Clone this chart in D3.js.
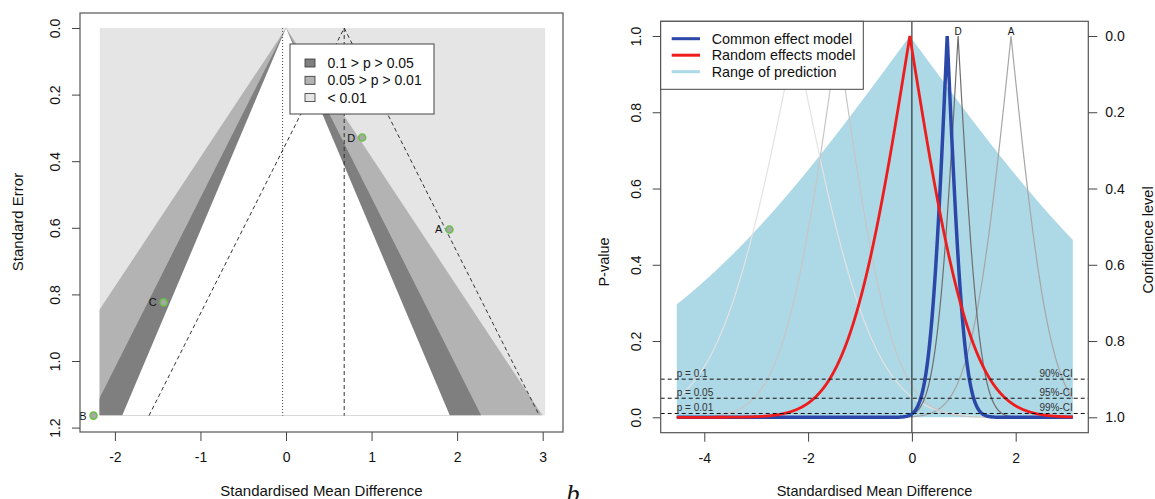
<!DOCTYPE html>
<html>
<head>
<meta charset="utf-8">
<script src="https://cdn.jsdelivr.net/npm/d3@7"></script>
<style>
  body { margin: 0; background: #fff; }
  svg text { font-family: "Liberation Sans", Arial, Helvetica, sans-serif; fill: #111; }
  .axis path.domain { display: none; }
  .axis line { stroke: #444; }
  .axis text { font-size: 14px; }
</style>
</head>
<body>
<div id="chart"></div>
<script>
// studies (estimate, standard error)
var studyLabels = ["A", "B", "C", "D"];
var studyTE = [1.91, -2.25, -1.43, 0.89];
var studySE = [0.605, 1.164, 0.824, 0.329];

// pooled models: common effect, random effects, prediction
var modelLabels = ["Common effect model", "Random effects model", "Range of prediction"];
var modelTE = [0.68, -0.04, -0.04];
var modelSE = [0.26, 0.94, 4.3];

// contour levels of the funnel
var contourLabels = ["0.1 > p > 0.05", "0.05 > p > 0.01", "< 0.01"];
var contourZ = [1.645, 1.96, 2.576];

// significance lines of the p-value plot
var pLevels = [0.1, 0.05, 0.01];
var pLabels = ["p = 0.1", "p = 0.05", "p = 0.01"];
var ciLabels = ["90%-CI", "95%-CI", "99%-CI"];

// ticks and ranges
var xTicksL = [-2, -1, 0, 1, 2, 3];
var yTicksL = [0, 0.2, 0.4, 0.6, 0.8, 1.0, 1.2];
var xTicksR = [-4, -2, 0, 2];
var yTicksR = [0, 0.2, 0.4, 0.6, 0.8, 1.0];
var funnelXRange = [-2.18, 3.03];
var curveXRange = [-4.53, 3.1];

// colours
var contourFill = ["#7f7f7f", "#b3b3b3", "#e5e5e5"];
var studyGray = ["#a6a6a6", "#e3e3e3", "#c6c6c6", "#6e6e6e"];
var modelColor = ["#2b48a8", "#ee1c1c", "#add8e6"];

var svg = d3.select("#chart").append("svg")
    .attr("width", 1155)
    .attr("height", 499);

// ---------- left panel: contour-enhanced funnel ----------
var xL = d3.scaleLinear().domain([-2, 3]).range([114.9, 542.7]);
var yL = d3.scaleLinear().domain([0, 1.2]).range([28, 427.6]);
var seMax = d3.max(studySE);

svg.append("clipPath").attr("id", "clipFunnel")
    .append("rect")
    .attr("x", xL(funnelXRange[0]))
    .attr("y", yL(0))
    .attr("width", xL(funnelXRange[1]) - xL(funnelXRange[0]))
    .attr("height", yL(seMax) - yL(0));

var gF = svg.append("g").attr("clip-path", "url(#clipFunnel)");
gF.append("rect")
    .attr("x", xL(funnelXRange[0]))
    .attr("y", yL(0))
    .attr("width", xL(funnelXRange[1]) - xL(funnelXRange[0]))
    .attr("height", yL(seMax) - yL(0))
    .attr("fill", contourFill[2]);

// triangles from widest to narrowest
var tri = function(z) {
    return [[0, 0], [-z * seMax, seMax], [z * seMax, seMax]];
};
var lineL = d3.line().x(function(d) { return xL(d[0]); }).y(function(d) { return yL(d[1]); });
var triZ = [contourZ[2], contourZ[1], contourZ[0]];
var triFill = [contourFill[1], contourFill[0], "#ffffff"];
triZ.forEach(function(z, i) {
    gF.append("path").attr("d", lineL(tri(z)) + "Z").attr("fill", triFill[i]);
});

// pseudo confidence funnel around common effect
var ce = modelTE[0];
svg.append("path")
    .attr("d", lineL([[ce - 1.96 * seMax, seMax], [ce, 0], [ce + 1.96 * seMax, seMax]]))
    .attr("fill", "none").attr("stroke", "#333").attr("stroke-dasharray", "4,3");
svg.append("line")
    .attr("x1", xL(ce)).attr("x2", xL(ce)).attr("y1", yL(0)).attr("y2", yL(seMax))
    .attr("stroke", "#333").attr("stroke-dasharray", "4,3");
svg.append("line")
    .attr("x1", xL(modelTE[1])).attr("x2", xL(modelTE[1])).attr("y1", yL(0)).attr("y2", yL(seMax))
    .attr("stroke", "#444").attr("stroke-dasharray", "1,2");

// studies
svg.selectAll(".study").data(studyLabels).enter().append("circle")
    .attr("class", "study")
    .attr("cx", function(d, i) { return xL(studyTE[i]); })
    .attr("cy", function(d, i) { return yL(studySE[i]); })
    .attr("r", 3.5)
    .attr("fill", "#a8a8a8")
    .attr("stroke", "#6cc04a")
    .attr("stroke-width", 1.6);
svg.selectAll(".studyLab").data(studyLabels).enter().append("text")
    .attr("x", function(d, i) { return xL(studyTE[i]) - 7; })
    .attr("y", function(d, i) { return yL(studySE[i]) + 4; })
    .attr("text-anchor", "end")
    .style("font-size", "11px")
    .text(function(d) { return d; });

// box and axes
svg.append("rect").attr("x", 80).attr("y", 13).attr("width", 483).attr("height", 419)
    .attr("fill", "none").attr("stroke", "#555").attr("stroke-width", 1.2);
svg.append("g").attr("class", "axis").attr("transform", "translate(0,432)")
    .call(d3.axisBottom(xL).tickValues(xTicksL).tickFormat(d3.format("d")).tickSize(9).tickPadding(11));
svg.append("g").attr("class", "axis").attr("transform", "translate(80,0)")
    .call(d3.axisLeft(yL).tickValues(yTicksL).tickFormat(d3.format(".1f")).tickSize(8))
    .selectAll("text")
    .attr("transform", "rotate(-90)")
    .attr("x", 0).attr("y", -20).attr("dy", 0)
    .attr("text-anchor", "middle");
svg.selectAll(".axis text").text(function() { return d3.select(this).text().replace("\u2212", "-"); });

svg.append("text").attr("x", 321.5).attr("y", 496).attr("text-anchor", "middle")
    .style("font-size", "15px").text("Standardised Mean Difference");
svg.append("text").attr("transform", "translate(23,222) rotate(-90)").attr("text-anchor", "middle")
    .style("font-size", "15px").text("Standard Error");

// legend
var legL = svg.append("g").attr("transform", "translate(290,44)");
legL.append("rect").attr("width", 144).attr("height", 70).attr("fill", "#fff").attr("stroke", "#444");
contourLabels.forEach(function(t, i) {
    legL.append("rect").attr("x", 15).attr("y", 15 + i * 17.3).attr("width", 10).attr("height", 8)
        .attr("fill", contourFill[i]).attr("stroke", "#333").attr("stroke-width", 0.8);
    legL.append("text").attr("x", 37.5).attr("y", 24 + i * 17.3).style("font-size", "14px").text(t);
});

// ---------- right panel: p-value functions ----------
var xR = d3.scaleLinear().domain([-4, 2]).range([704.3, 1015.7]);
var yR = d3.scaleLinear().domain([0, 1]).range([417.3, 36]);
var yC = d3.scaleLinear().domain([1, 0]).range([417.3, 36]);
var legWidth = 202.6;

function erf(x) {
    var s = x < 0 ? -1 : 1;
    x = Math.abs(x);
    var t = 1 / (1 + 0.3275911 * x);
    var y = 1 - (((((1.061405429 * t - 1.453152027) * t) + 1.421413741) * t - 0.284496736) * t + 0.254829592) * t * Math.exp(-x * x);
    return s * y;
}
// two-sided p-value of testing x against an estimate with its SE
function pval(x, te, se) {
    return 1 - erf(Math.abs(x - te) / (se * Math.SQRT2));
}
function curve(te, se) {
    var xs = d3.range(curveXRange[0], curveXRange[1] + 0.0001, 0.005);
    xs.push(te);
    xs.sort(d3.ascending);
    return xs.map(function(x) { return [x, pval(x, te, se)]; });
}

svg.append("clipPath").attr("id", "clipR")
    .append("rect").attr("x", 660.7).attr("y", 21.3).attr("width", 427.6).attr("height", 411.4);
var gR = svg.append("g").attr("clip-path", "url(#clipR)");

var lineR = d3.line().x(function(d) { return xR(d[0]); }).y(function(d) { return yR(d[1]); });
var areaR = d3.area().x(function(d) { return xR(d[0]); }).y0(yR(0)).y1(function(d) { return yR(d[1]); });

// range of prediction
gR.append("path").attr("d", areaR(curve(modelTE[2], modelSE[2]))).attr("fill", modelColor[2]);

// single studies
studyLabels.forEach(function(s, i) {
    gR.append("path").attr("d", lineR(curve(studyTE[i], studySE[i])))
        .attr("fill", "none").attr("stroke", studyGray[i]).attr("stroke-width", 1.2);
});

gR.append("line").attr("x1", xR(0)).attr("x2", xR(0)).attr("y1", 21.3).attr("y2", 432.7)
    .attr("stroke", "#111").attr("stroke-width", 1);

gR.append("path").attr("d", lineR(curve(modelTE[0], modelSE[0])))
    .attr("fill", "none").attr("stroke", modelColor[0]).attr("stroke-width", 3.5);
gR.append("path").attr("d", lineR(curve(modelTE[1], modelSE[1])))
    .attr("fill", "none").attr("stroke", modelColor[1]).attr("stroke-width", 2.8);

// significance lines
pLevels.forEach(function(p, i) {
    gR.append("line").attr("x1", 660.7).attr("x2", 1088.3).attr("y1", yR(p)).attr("y2", yR(p))
        .attr("stroke", "#111").attr("stroke-dasharray", "4,3");
    svg.append("text").attr("x", xR(curveXRange[0])).attr("y", yR(p) - 2)
        .style("font-size", "10px").style("fill", "#333").text(pLabels[i]);
    svg.append("text").attr("x", xR(curveXRange[1])).attr("y", yR(p) - 2).attr("text-anchor", "end")
        .style("font-size", "10px").style("fill", "#333").text(ciLabels[i]);
});

// study labels at the peaks (those under the legend stay hidden)
studyLabels.forEach(function(s, i) {
    if (xR(studyTE[i]) < 660.7 + legWidth + 5) return;
    svg.append("text").attr("x", xR(studyTE[i])).attr("y", 35).attr("text-anchor", "middle")
        .style("font-size", "10px").text(s);
});

// box and axes
svg.append("rect").attr("x", 660.7).attr("y", 21.3).attr("width", 427.6).attr("height", 411.4)
    .attr("fill", "none").attr("stroke", "#555").attr("stroke-width", 1.2);
svg.append("g").attr("class", "axis").attr("transform", "translate(0,432.7)")
    .call(d3.axisBottom(xR).tickValues(xTicksR).tickFormat(d3.format("d")).tickSize(9).tickPadding(11));
svg.append("g").attr("class", "axis").attr("transform", "translate(660.7,0)")
    .call(d3.axisLeft(yR).tickValues(yTicksR).tickFormat(d3.format(".1f")).tickSize(8))
    .selectAll("text")
    .attr("transform", "rotate(-90)")
    .attr("x", 0).attr("y", -20).attr("dy", 0)
    .attr("text-anchor", "middle");
svg.append("g").attr("class", "axis").attr("transform", "translate(1088.3,0)")
    .call(d3.axisRight(yC).tickValues(yTicksR).tickFormat(d3.format(".1f")).tickSize(9).tickPadding(8));
svg.selectAll(".axis text").text(function() { return d3.select(this).text().replace("\u2212", "-"); });

svg.append("text").attr("x", 874.5).attr("y", 496).attr("text-anchor", "middle")
    .style("font-size", "14.5px").text("Standardised Mean Difference");
svg.append("text").attr("transform", "translate(609,262) rotate(-90)").attr("text-anchor", "middle")
    .style("font-size", "14.5px").text("P-value");
svg.append("text").attr("transform", "translate(1153,240) rotate(-90)").attr("text-anchor", "middle")
    .style("font-size", "14.5px").text("Confidence level");

// legend
var legR = svg.append("g").attr("transform", "translate(660.7,21.3)");
legR.append("rect").attr("width", legWidth).attr("height", 68).attr("fill", "#fff").attr("stroke", "#444");
modelLabels.forEach(function(t, i) {
    legR.append("line").attr("x1", 11).attr("x2", 39.3)
        .attr("y1", 17.4 + i * 16.5).attr("y2", 17.4 + i * 16.5)
        .attr("stroke", modelColor[i]).attr("stroke-width", 3);
    legR.append("text").attr("x", 51).attr("y", 22.4 + i * 16.5).style("font-size", "14.4px").text(t);
});

// panel letter
svg.append("text").attr("x", 573).attr("y", 502).attr("text-anchor", "middle")
    .style("font-family", "'Liberation Serif', 'DejaVu Serif', serif")
    .style("font-style", "italic").style("font-size", "26px").text("b");
</script>
</body>
</html>
